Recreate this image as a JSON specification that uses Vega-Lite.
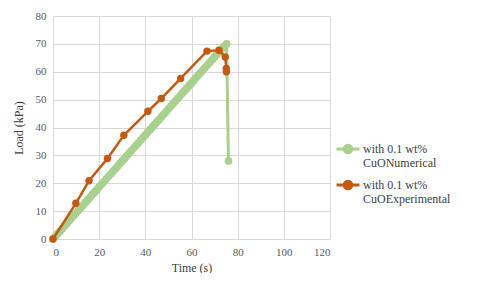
{
  "$schema": "https://vega.github.io/schema/vega-lite/v6.json",
  "width": 277,
  "height": 223,
  "padding": {"left": 12, "top": 10, "right": 0, "bottom": 0},
  "background": "white",
  "datasets": {
    "num": [
      {"t":0,"load":0},{"t":1,"load":0.9},{"t":2,"load":1.9},{"t":3,"load":2.8},{"t":4,"load":3.7},{"t":5,"load":4.7},{"t":6,"load":5.6},{"t":7,"load":6.5},{"t":8,"load":7.5},{"t":9,"load":8.4},
      {"t":10,"load":9.3},{"t":11,"load":10.3},{"t":12,"load":11.2},{"t":13,"load":12.1},{"t":14,"load":13.1},{"t":15,"load":14},{"t":16,"load":14.9},{"t":17,"load":15.9},{"t":18,"load":16.8},{"t":19,"load":17.7},
      {"t":20,"load":18.7},{"t":21,"load":19.6},{"t":22,"load":20.5},{"t":23,"load":21.5},{"t":24,"load":22.4},{"t":25,"load":23.3},{"t":26,"load":24.3},{"t":27,"load":25.2},{"t":28,"load":26.1},{"t":29,"load":27.1},
      {"t":30,"load":28},{"t":31,"load":28.9},{"t":32,"load":29.9},{"t":33,"load":30.8},{"t":34,"load":31.7},{"t":35,"load":32.7},{"t":36,"load":33.6},{"t":37,"load":34.5},{"t":38,"load":35.5},{"t":39,"load":36.4},
      {"t":40,"load":37.3},{"t":41,"load":38.3},{"t":42,"load":39.2},{"t":43,"load":40.1},{"t":44,"load":41.1},{"t":45,"load":42},{"t":46,"load":42.9},{"t":47,"load":43.9},{"t":48,"load":44.8},{"t":49,"load":45.7},
      {"t":50,"load":46.7},{"t":51,"load":47.6},{"t":52,"load":48.5},{"t":53,"load":49.5},{"t":54,"load":50.4},{"t":55,"load":51.3},{"t":56,"load":52.3},{"t":57,"load":53.2},{"t":58,"load":54.1},{"t":59,"load":55.1},
      {"t":60,"load":56},{"t":61,"load":56.9},{"t":62,"load":57.9},{"t":63,"load":58.8},{"t":64,"load":59.7},{"t":65,"load":60.7},{"t":66,"load":61.6},{"t":67,"load":62.5},{"t":68,"load":63.5},{"t":69,"load":64.4},
      {"t":70,"load":65.3},{"t":71,"load":66.3},{"t":72,"load":67.2},{"t":73,"load":68.1},{"t":74,"load":69.1},{"t":75.2,"load":70},{"t":76,"load":28}
    ],
    "exp": [
      {"t":0,"load":0,"i":1},{"t":9.9,"load":12.8,"i":2},{"t":15.6,"load":20.9,"i":3},{"t":23.6,"load":28.9,"i":4},{"t":30.7,"load":37.2,"i":5},
      {"t":41.1,"load":45.8,"i":6},{"t":46.9,"load":50.4,"i":7},{"t":55.3,"load":57.6,"i":8},{"t":66.7,"load":67.4,"i":9},{"t":71.9,"load":67.7,"i":10},
      {"t":74.6,"load":65.3,"i":11},{"t":75.1,"load":61.2,"i":12},{"t":75.1,"load":60.0,"i":13}
    ]
  },
  "config": {
    "font": "Liberation Serif",
    "view": {"stroke": null},
    "axis": {
      "labelFont": "Liberation Serif", "labelFontSize": 11, "labelColor": "#595959",
      "titleFont": "Liberation Serif", "titleFontSize": 12, "titleFontWeight": "normal", "titleColor": "#404040",
      "gridColor": "#d9d9d9", "gridWidth": 1, "ticks": false, "domain": false
    }
  },
  "encoding": {
    "x": {"field": "t", "type": "quantitative", "title": "Time (s)",
      "scale": {"domain": [0, 120], "nice": false},
      "axis": {"values": [0,20,40,60,80,100,120], "labelPadding": 7, "titlePadding": 5}},
    "y": {"field": "load", "type": "quantitative", "title": "Load (kPa)",
      "scale": {"domain": [0, 80], "nice": false},
      "axis": {"values": [0,10,20,30,40,50,60,70,80], "labelPadding": 7, "titlePadding": 10}},
    "color": {"datum": "with 0.1 wt% CuONumerical", "type": "nominal",
      "scale": {"domain": ["with 0.1 wt% CuONumerical", "with 0.1 wt% CuOExperimental"], "range": ["#A9D08E", "#C65911"]},
      "legend": {
        "title": null, "orient": "none", "legendX": 282, "legendY": 120,
        "symbolType": "M -1 0 L -0.33 0 M 0.33 0 L 1 0 M -0.33 0 A 0.33 0.33 0 1 0 0.33 0 A 0.33 0.33 0 1 0 -0.33 0 Z",
        "symbolSize": 529, "symbolStrokeWidth": 3, "symbolOffset": 0,
        "labelFont": "Liberation Serif", "labelFontSize": 12, "labelColor": "#404040",
        "labelExpr": "[slice(datum.label, 0, 12), slice(datum.label, 13)]",
        "labelLimit": 300, "labelOffset": 2, "rowPadding": 3,
        "encode": {"symbols": {"update": {
          "fill": {"scale": "color", "field": "value"},
          "stroke": {"scale": "color", "field": "value"}, "opacity": {"value": 1}}}}
      }}
  },
  "layer": [
    {"data": {"name": "num"}, "mark": {"type": "line", "strokeWidth": 3}, "encoding": {"order": {"field": "t"}}},
    {"data": {"name": "num"}, "mark": {"type": "point", "filled": true, "size": 60, "opacity": 1}},
    {"data": {"name": "exp"}, "mark": {"type": "line", "strokeWidth": 2.5},
      "encoding": {"order": {"field": "i"}, "color": {"datum": "with 0.1 wt% CuOExperimental", "type": "nominal"}}},
    {"data": {"name": "exp"}, "mark": {"type": "point", "filled": true, "size": 55, "opacity": 1},
      "encoding": {"color": {"datum": "with 0.1 wt% CuOExperimental", "type": "nominal"}}}
  ]
}
